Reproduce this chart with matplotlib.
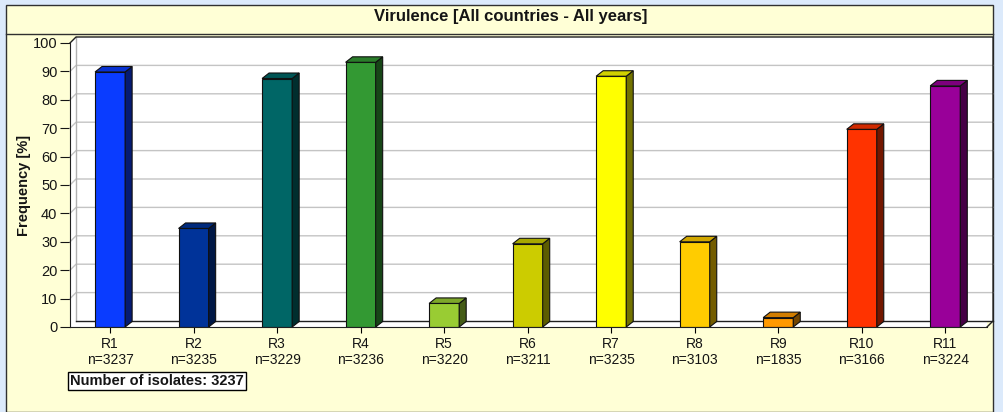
#!/usr/bin/env python3
"""Virulence frequency bar chart (pseudo-3D bars), saved as out.png."""

import numpy as np
import matplotlib
matplotlib.use('Agg')
import matplotlib.pyplot as plt
from matplotlib.patches import Polygon, Rectangle
from matplotlib.colors import to_rgb

plt.rcParams['font.family'] = ['Liberation Sans', 'DejaVu Sans']

# --- data -------------------------------------------------------------
genes = ['R1', 'R2', 'R3', 'R4', 'R5', 'R6', 'R7', 'R8', 'R9', 'R10', 'R11']
n_isolates = [3237, 3235, 3229, 3236, 3220, 3211, 3235, 3103, 1835, 3166, 3224]
freq = [89.8, 34.7, 87.5, 93.2, 8.3, 29.3, 88.3, 30.0, 3.3, 69.6, 84.9]
total_isolates = 3237
bar_colors = ['#0A3CFF', '#003399', '#006666', '#339933', '#99CC33', '#CCCC00',
              '#FFFF00', '#FFCC00', '#FF9900', '#FF3300', '#990099']

title = 'Virulence [All countries - All years]'
ylabel = 'Frequency [%]'

# --- layout (pixels of a 1004x412 canvas) ------------------------------
W, H = 1004, 412
BG_BLUE = '#DCEAFB'
CREAM = '#FFFFD6'
TXT = '#151515'

fig = plt.figure(figsize=(W / 100, H / 100), dpi=100, facecolor=BG_BLUE)

# cream panel + title band (drawn below the axes)
fig.patches.append(Rectangle((6 / W, 0), (993 - 6) / W, (H - 5) / H,
                             transform=fig.transFigure, facecolor=CREAM,
                             edgecolor='#303030', lw=1.0, zorder=-5))
fig.lines.append(plt.Line2D([6 / W, 993 / W], [1 - 34 / H, 1 - 34 / H],
                            transform=fig.transFigure, color='#303030',
                            lw=1.0, zorder=-4))
fig.text(511 / W, 1 - 17 / H, title, ha='center', va='center',
         fontsize=12, fontweight='bold', color=TXT)

ax = fig.add_axes([70 / W, 85 / H, 917 / W, 284 / H])
ax.set_facecolor('white')
x = np.arange(len(genes))
x0, x1 = -0.48, len(genes) - 0.5
ax.set_xlim(x0, x1)
ax.set_ylim(0, 100)

# wall / bar depth in data units
wdx, wdy = 6 / 83.4, 6 / 2.84
bdx, bdy = 7 / 83.4, 5.5 / 2.84
width = 0.36

# back wall and left wall
ax.add_patch(Polygon([(x0 + wdx, wdy), (x1 + wdx, wdy), (x1 + wdx, 100 + wdy),
                      (x0 + wdx, 100 + wdy)], closed=True, facecolor='white',
                     edgecolor='none', clip_on=False, zorder=1))
ax.add_patch(Polygon([(x0, 0), (x0 + wdx, wdy), (x0 + wdx, 100 + wdy), (x0, 100)],
                     closed=True, facecolor='white', edgecolor='none',
                     clip_on=False, zorder=1))
for yv in range(10, 100, 10):
    ax.plot([x0, x0 + wdx, x1 + wdx], [yv, yv + wdy, yv + wdy],
            color='#C4C4C4', lw=1.0, clip_on=False, zorder=2)
ax.plot([x0 + wdx, x0 + wdx], [wdy, 100 + wdy], color='#B0B0B0', lw=1.0,
        clip_on=False, zorder=2)
# frame of the walls
ax.plot([x0, x0 + wdx, x1 + wdx, x1 + wdx, x1],
        [100, 100 + wdy, 100 + wdy, wdy, 0],
        color='#202020', lw=1.0, clip_on=False, zorder=3)
ax.plot([x0 + wdx, x1 + wdx], [wdy, wdy], color='#202020', lw=1.0,
        clip_on=False, zorder=3)

# bars
for xi, v, c in zip(x, freq, bar_colors):
    rgb = np.array(to_rgb(c))
    side = rgb * 0.45
    top = rgb * 0.82
    l, r = xi - width / 2, xi + width / 2
    ax.bar(xi, v, width=width, color=c, edgecolor='#101010', lw=0.8, zorder=5)
    ax.add_patch(Polygon([(r, 0), (r + bdx, bdy), (r + bdx, v + bdy), (r, v)],
                         closed=True, facecolor=side, edgecolor='#101010',
                         lw=0.8, zorder=5, clip_on=False))
    ax.add_patch(Polygon([(l, v), (r, v), (r + bdx, v + bdy), (l + bdx, v + bdy)],
                         closed=True, facecolor=top, edgecolor='#101010',
                         lw=0.8, zorder=5, clip_on=False))

# axes
for s in ['top', 'right']:
    ax.spines[s].set_visible(False)
for s in ['left', 'bottom']:
    ax.spines[s].set_color('#202020')
    ax.spines[s].set_zorder(6)
ax.set_yticks(range(0, 101, 10))
ax.set_xticks(x)
ax.set_xticklabels([f'{g}\nn={n}' for g, n in zip(genes, n_isolates)],
                   fontsize=10, color=TXT, linespacing=1.2)
ax.tick_params(axis='y', length=7, width=0.8, labelsize=10.5, colors=TXT,
               pad=2)
ax.tick_params(axis='x', length=4, width=0.8, pad=3)
ax.set_ylabel(ylabel, fontsize=10.5, fontweight='bold', color=TXT)
ax.yaxis.set_label_coords(-0.043, 0.5)

fig.text(70 / W, 1 - 381 / H, f'Number of isolates: {total_isolates}',
         ha='left', va='center', fontsize=10.5, fontweight='bold',
         color=TXT,
         bbox=dict(boxstyle='square,pad=0.12', facecolor='white',
                   edgecolor='black', lw=1.0))

fig.savefig('out.png', dpi=100, facecolor=BG_BLUE)
